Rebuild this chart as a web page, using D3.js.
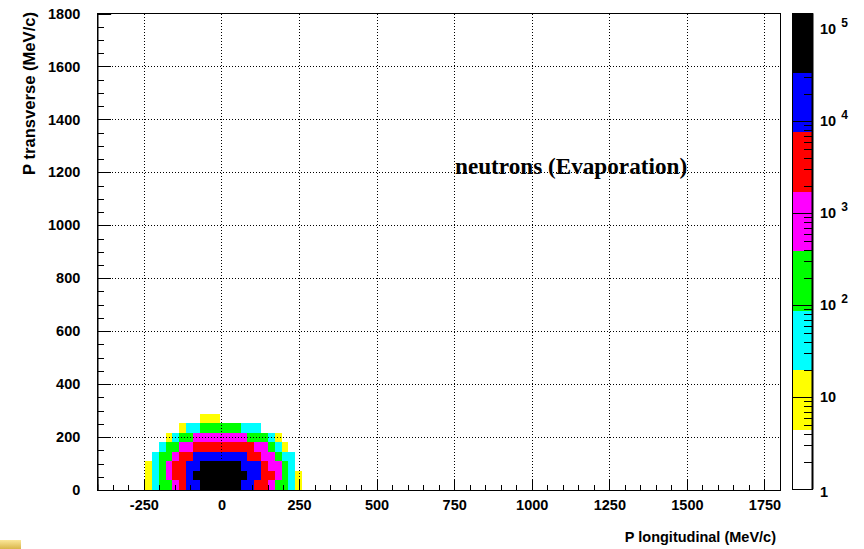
<!DOCTYPE html>
<html>
<head>
<meta charset="utf-8">
<script src="https://cdn.jsdelivr.net/npm/d3@7"></script>
<style>
  html, body { margin: 0; padding: 0; background: #fff; }
  svg { display: block; }
  .lbl { font-family: "Liberation Sans", Arial, Helvetica, sans-serif; font-weight: bold; font-size: 14.5px; fill: #000; }
</style>
</head>
<body>
<svg id="chart" width="864" height="549"></svg>
<script>
// Axis ranges (MeV/c)
const xRange = [-400, 1800];
const yRange = [0, 1800];

// Histogram binning: 22 MeV/c wide in x, 36 MeV/c in y.
// Stored columns start at the bin whose low edge is -246 MeV/c.
const xBinWidth = 22;
const yBinWidth = 36;
const firstColumnLow = -246;

// Entries per bin, one array per transverse bin (row 0 = 0..36 MeV/c)
const row0 = [9, 38, 150, 260, 700, 2600, 11000, 24000, 52000, 90000, 120000, 125000, 95000, 55000, 26000, 12000, 6000, 2400, 900, 330, 140, 50, 8];
const row1 = [11, 45, 170, 600, 2100, 5200, 14000, 40000, 70000, 110000, 140000, 145000, 115000, 72000, 42000, 30000, 15000, 6500, 2200, 1100, 300, 60, 6];
const row2 = [6, 28, 110, 450, 1900, 4500, 12000, 30000, 48000, 80000, 100000, 98000, 75000, 45000, 33000, 20000, 9000, 3000, 1500, 500, 180, 30, 0];
const row3 = [0, 22, 95, 280, 850, 2000, 5500, 10000, 18000, 26000, 32000, 33000, 27000, 19000, 9500, 6000, 2500, 1300, 480, 200, 70, 25, 0];
const row4 = [0, 0, 40, 120, 330, 700, 1500, 2400, 3800, 5500, 7000, 7500, 6800, 5200, 3600, 2000, 1200, 450, 130, 35, 9, 0, 0];
const row5 = [0, 0, 0, 7, 30, 100, 260, 480, 800, 1200, 1500, 1450, 1100, 750, 420, 350, 200, 95, 40, 12, 0, 0, 0];
const row6 = [0, 0, 0, 0, 0, 10, 25, 65, 110, 220, 330, 340, 240, 120, 80, 50, 22, 0, 0, 0, 0, 0, 0];
const row7 = [0, 0, 0, 0, 0, 0, 0, 0, 6, 12, 8, 0, 0, 0, 0, 0, 0, 0, 0, 0, 0, 0, 0];
const rows = [row0, row1, row2, row3, row4, row5, row6, row7];

// Colour scale (log z)
const zMin = 1;
const zMax = 149000;
const palette = ["#ffffff", "#ffff00", "#00ffff", "#00ff00", "#ff00ff", "#ff0000", "#0000ff", "#000000"];

// Tick values
const xMajor = [-250, 0, 250, 500, 750, 1000, 1250, 1500, 1750];
const yMajor = [0, 200, 400, 600, 800, 1000, 1200, 1400, 1600, 1800];
const zDecades = [1, 10, 100, 1000, 10000, 100000];
const zExponents = ["", "", "2", "3", "4", "5"];

const labelText = "neutrons (Evaporation)";
const xTitle = "P longitudinal (MeV/c)";
const yTitle = "P transverse (MeV/c)";

const svg = d3.select("#chart");

const frame = { left: 97.3, right: 780, top: 13.5, bottom: 490 };
const x = d3.scaleLinear().domain(xRange).range([frame.left, frame.right]);
const y = d3.scaleLinear().domain(yRange).range([frame.bottom, frame.top]);

// Band index for a bin content
const nBands = palette.length;
const logSpan = Math.log10(zMax) - Math.log10(zMin);
function band(v) {
  const b = Math.floor((Math.log10(v) - Math.log10(zMin)) / logSpan * nBands);
  return Math.max(0, Math.min(nBands - 1, b));
}

// Cells
const cells = [];
rows.forEach((r, j) => r.forEach((v, c) => { if (v > 0) cells.push({ j, c, v }); }));

svg.append("g").attr("shape-rendering", "crispEdges")
  .selectAll("rect").data(cells).join("rect")
  .attr("x", d => x(firstColumnLow + d.c * xBinWidth))
  .attr("width", d => x(firstColumnLow + (d.c + 1) * xBinWidth) - x(firstColumnLow + d.c * xBinWidth))
  .attr("y", d => y((d.j + 1) * yBinWidth))
  .attr("height", d => y(d.j * yBinWidth) - y((d.j + 1) * yBinWidth))
  .attr("fill", d => palette[band(d.v)]);

// Dotted grid
const grid = svg.append("g").attr("stroke", "#000").attr("stroke-width", 1)
  .attr("stroke-dasharray", "1,2").attr("shape-rendering", "crispEdges");
grid.selectAll(".gx").data(xMajor).join("line")
  .attr("x1", d => Math.round(x(d)) + 0.5).attr("x2", d => Math.round(x(d)) + 0.5)
  .attr("y1", frame.top).attr("y2", frame.bottom);
grid.selectAll(".gy").data(yMajor.filter(v => v > 0 && v < 1800)).join("line")
  .attr("y1", d => Math.round(y(d)) + 0.5).attr("y2", d => Math.round(y(d)) + 0.5)
  .attr("x1", frame.left).attr("x2", frame.right);

// Frame
svg.append("rect")
  .attr("x", frame.left).attr("y", frame.top)
  .attr("width", frame.right - frame.left).attr("height", frame.bottom - frame.top)
  .attr("fill", "none").attr("stroke", "#000").attr("stroke-width", 1)
  .attr("shape-rendering", "crispEdges");

// Axes with inward ticks
const xMinor = d3.range(-400, 1801, 50).filter(v => !xMajor.includes(v));
const yMinor = d3.range(0, 1801, 50).filter(v => !yMajor.includes(v));
const plain = d => String(d);

const gx = svg.append("g").attr("transform", `translate(0,${frame.bottom})`);
gx.call(d3.axisBottom(x).tickValues(xMajor).tickSize(-11).tickPadding(10).tickFormat(plain));
gx.append("g").call(d3.axisBottom(x).tickValues(xMinor).tickSize(-5.5).tickFormat(""));

const gy = svg.append("g").attr("transform", `translate(${frame.left},0)`);
gy.call(d3.axisLeft(y).tickValues(yMajor).tickSize(-14).tickPadding(17).tickFormat(plain));
gy.append("g").call(d3.axisLeft(y).tickValues(yMinor).tickSize(-7).tickFormat(""));

[gx, gy].forEach(g => {
  g.selectAll(".domain").attr("stroke", "#000");
  g.selectAll("line").attr("stroke", "#000").attr("shape-rendering", "crispEdges");
  g.selectAll("text").attr("class", "lbl").attr("font-size", null).attr("font-family", null);
  g.attr("font-size", null).attr("font-family", null);
});

// Axis titles
svg.append("text").attr("class", "lbl")
  .attr("x", 776).attr("y", 542).attr("text-anchor", "end").text(xTitle);
svg.append("text").attr("class", "lbl")
  .attr("transform", `translate(35,12) rotate(-90)`)
  .attr("text-anchor", "end").style("font-size", "16.6px").text(yTitle);

// Text inside the plot
svg.append("text")
  .attr("x", 455).attr("y", 174)
  .style("font-family", "'Liberation Serif', 'Times New Roman', serif")
  .style("font-weight", "bold").style("font-size", "23.2px")
  .text(labelText);

// Colour bar
const bar = { left: 792.5, right: 812.5 };
const z = d3.scaleLog().domain([zMin, zMax]).range([489.3, 13.3]);
const bandEdges = d3.range(nBands + 1).map(k => Math.pow(10, Math.log10(zMin) + logSpan * k / nBands));

svg.append("g").attr("shape-rendering", "crispEdges")
  .selectAll("rect").data(palette).join("rect")
  .attr("x", bar.left).attr("width", bar.right - bar.left)
  .attr("y", (c, k) => z(bandEdges[k + 1]))
  .attr("height", (c, k) => z(bandEdges[k]) - z(bandEdges[k + 1]))
  .attr("fill", c => c);

svg.append("rect")
  .attr("x", bar.left).attr("y", z(zMax)).attr("width", bar.right - bar.left)
  .attr("height", z(zMin) - z(zMax)).attr("fill", "none")
  .attr("stroke", "#000").attr("stroke-width", 1).attr("shape-rendering", "crispEdges");
svg.append("line").attr("x1", bar.right).attr("x2", bar.right)
  .attr("y1", z(zMax)).attr("y2", z(zMin)).attr("stroke", "#000").attr("stroke-width", 2);

// Colour bar ticks
const zMinor = [];
zDecades.forEach(dec => { for (let m = 2; m <= 9; m++) { const v = dec * m; if (v < zMax) zMinor.push(v); } });
const zt = svg.append("g").attr("stroke", "#000").attr("stroke-width", 1).attr("shape-rendering", "crispEdges");
zt.selectAll(".maj").data(zDecades.slice(1)).join("line")
  .attr("x1", bar.left).attr("x2", bar.right)
  .attr("y1", d => Math.round(z(d)) + 0.5).attr("y2", d => Math.round(z(d)) + 0.5);
zt.selectAll(".min").data(zMinor).join("line")
  .attr("x1", bar.right - 9).attr("x2", bar.right)
  .attr("y1", d => Math.round(z(d)) + 0.5).attr("y2", d => Math.round(z(d)) + 0.5);

// Colour bar labels
const zl = svg.append("g").selectAll("text").data(zDecades).join("text")
  .attr("class", "lbl").attr("x", 820).attr("y", (d, i) => z(d) + 5 + (i === 0 ? 3 : 0));
zl.append("tspan").text(d => d === 1 ? "1" : "10");
zl.filter((d, i) => zExponents[i] !== "").append("tspan")
  .attr("dx", 5).attr("dy", -7).style("font-size", "12px")
  .text((d, i) => zExponents[zDecades.indexOf(d)]);

// Small gold swatch in the lower-left corner
const defs = svg.append("defs");
const grad = defs.append("linearGradient").attr("id", "gold").attr("x1", 0).attr("y1", 0).attr("x2", 0).attr("y2", 1);
grad.append("stop").attr("offset", "0%").attr("stop-color", "#fbe79a");
grad.append("stop").attr("offset", "100%").attr("stop-color", "#d9b64a");
svg.append("rect").attr("x", 0).attr("y", 540).attr("width", 21).attr("height", 9).attr("fill", "url(#gold)");
</script>
</body>
</html>
